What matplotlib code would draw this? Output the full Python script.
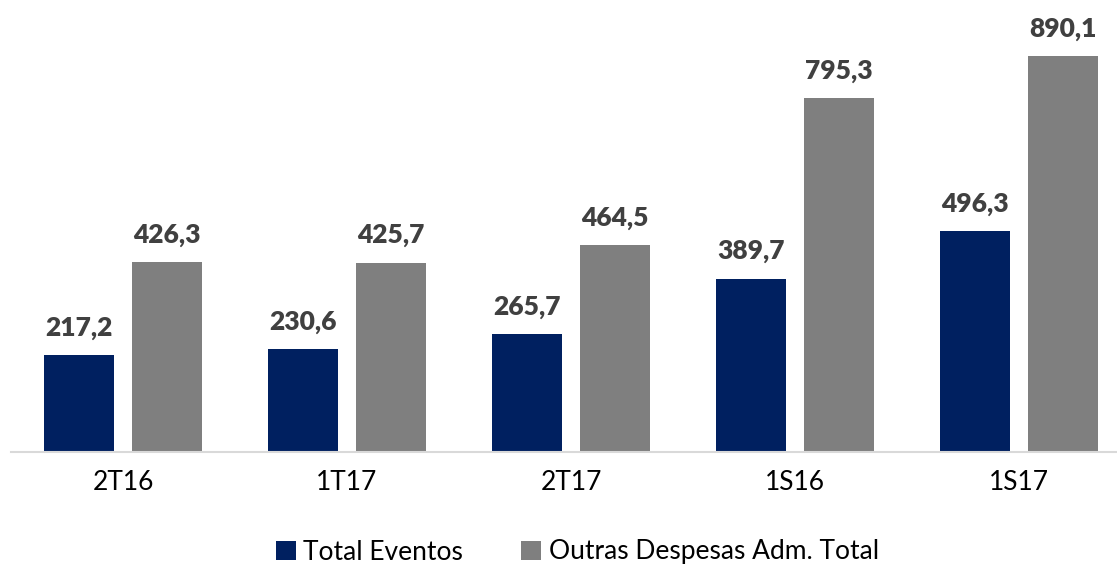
import matplotlib
matplotlib.use('Agg')
import matplotlib.pyplot as plt
import numpy as np

categories = ['2T16', '1T17', '2T17', '1S16', '1S17']
total_eventos = [217.2, 230.6, 265.7, 389.7, 496.3]
outras_despesas = [426.3, 425.7, 464.5, 795.3, 890.1]
series_names = ['Total Eventos', 'Outras Despesas Adm. Total']

plt.rcParams['font.family'] = ['Lato', 'DejaVu Sans']

fig = plt.figure(figsize=(11.17, 5.66), dpi=100)
ax = fig.add_axes([11 / 1117, 114 / 566, 1 - 11 / 1117, 452 / 566])

x = np.arange(len(categories))
w = 0.3125
off = 0.196
b1 = ax.bar(x - off, total_eventos, w, color='#002060', label=series_names[0])
b2 = ax.bar(x + off, outras_despesas, w, color='#7f7f7f', label=series_names[1])

def fmt(v):
    return f'{v:.1f}'.replace('.', ',')

for bars, vals in [(b1, total_eventos), (b2, outras_despesas)]:
    for r, v in zip(bars, vals):
        ax.annotate(fmt(v), (r.get_x() + r.get_width() / 2, v),
                    xytext=(0, 11), textcoords='offset points',
                    ha='center', va='bottom', fontsize=19, fontweight='heavy',
                    color='#404040')

ax.set_xlim(-0.5, (1117 - 123) / 224)
ax.set_ylim(0, 1016)
ax.set_yticks([])
ax.set_xticks(x)
ax.set_xticklabels(categories, fontsize=19, color='black')
ax.tick_params(axis='x', length=0, pad=13)
for s in ['top', 'right', 'left']:
    ax.spines[s].set_visible(False)
ax.spines['bottom'].set_color('#d9d9d9')
ax.spines['bottom'].set_linewidth(1.5)

fig.legend(handles=[b1, b2], loc='center', bbox_to_anchor=(0.517, 14 / 566),
           ncol=2, frameon=False, fontsize=19, handlelength=0.75,
           handleheight=0.75, handletextpad=0.3, columnspacing=2.2)

fig.savefig('out.png', dpi=100)
